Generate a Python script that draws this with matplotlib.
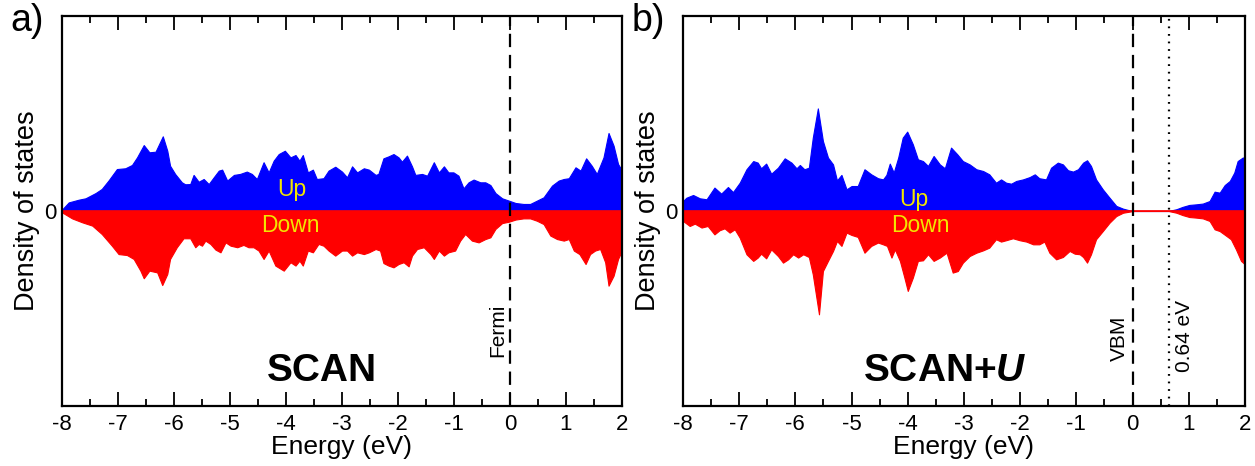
import matplotlib
matplotlib.use("Agg")
import matplotlib.pyplot as plt
from matplotlib.ticker import MultipleLocator

plt.rcParams['font.family'] = ['Liberation Sans', 'DejaVu Sans']
plt.rcParams['axes.unicode_minus'] = False
plt.rcParams['mathtext.fontset'] = 'custom'
plt.rcParams['mathtext.rm'] = 'Liberation Sans'
plt.rcParams['mathtext.bf'] = 'Liberation Sans:bold'
plt.rcParams['mathtext.it'] = 'Liberation Sans:italic'
plt.rcParams['mathtext.bfit'] = 'Liberation Sans:bold:italic'

# ---------------- data (arbitrary DOS units) ----------
# Panel a) SCAN
scan_up_e = [-8.00, -7.88, -7.70, -7.58, -7.40, -7.29, -7.17, -7.02, -6.87, -6.75,
             -6.66, -6.54, -6.44, -6.33, -6.20, -6.12, -6.07, -5.98, -5.86, -5.80,
             -5.71, -5.65, -5.56, -5.47, -5.38, -5.29, -5.20, -5.14, -5.05, -4.93,
             -4.82, -4.70, -4.61, -4.52, -4.40, -4.31, -4.22, -4.13, -4.02, -3.92,
             -3.83, -3.76, -3.70, -3.61, -3.52, -3.45, -3.33, -3.24, -3.12, -3.00,
             -2.91, -2.82, -2.73, -2.61, -2.52, -2.40, -2.35, -2.26, -2.17, -2.08,
             -1.99, -1.93, -1.84, -1.75, -1.69, -1.57, -1.48, -1.36, -1.27, -1.18,
             -1.10, -1.01, -0.92, -0.83, -0.74, -0.65, -0.53, -0.44, -0.35, -0.26,
             -0.14, -0.02, 0.10, 0.24, 0.36, 0.48, 0.60, 0.75, 0.87, 0.96,
             1.05, 1.17, 1.26, 1.36, 1.46, 1.55, 1.67, 1.76, 1.85, 1.93, 2.00]
scan_up = [0.007, 0.044, 0.058, 0.065, 0.092, 0.113, 0.156, 0.215, 0.219, 0.236,
           0.275, 0.338, 0.301, 0.304, 0.383, 0.309, 0.232, 0.190, 0.147, 0.137,
           0.138, 0.185, 0.150, 0.164, 0.138, 0.173, 0.207, 0.212, 0.156, 0.185,
           0.190, 0.202, 0.190, 0.164, 0.250, 0.198, 0.258, 0.292, 0.309, 0.275,
           0.287, 0.258, 0.287, 0.198, 0.212, 0.164, 0.168, 0.207, 0.227, 0.202,
           0.173, 0.229, 0.198, 0.219, 0.212, 0.185, 0.190, 0.270, 0.280, 0.292,
           0.275, 0.253, 0.284, 0.229, 0.185, 0.190, 0.181, 0.250, 0.198, 0.229,
           0.198, 0.198, 0.181, 0.116, 0.147, 0.161, 0.147, 0.147, 0.133, 0.092,
           0.065, 0.053, 0.041, 0.036, 0.036, 0.053, 0.070, 0.130, 0.156, 0.164,
           0.168, 0.224, 0.207, 0.270, 0.232, 0.190, 0.275, 0.400, 0.335, 0.241, 0.207]

scan_dn_e = [-8.00, -7.82, -7.64, -7.46, -7.29, -7.11, -6.99, -6.84, -6.72, -6.60,
             -6.54, -6.44, -6.30, -6.21, -6.12, -6.07, -5.95, -5.83, -5.71, -5.62,
             -5.56, -5.50, -5.44, -5.35, -5.26, -5.17, -5.08, -4.99, -4.87, -4.76,
             -4.67, -4.58, -4.49, -4.40, -4.31, -4.19, -4.04, -3.92, -3.83, -3.76,
             -3.70, -3.61, -3.52, -3.42, -3.33, -3.24, -3.12, -3.00, -2.91, -2.82,
             -2.73, -2.61, -2.52, -2.40, -2.32, -2.26, -2.17, -2.08, -1.99, -1.90,
             -1.81, -1.75, -1.66, -1.54, -1.42, -1.36, -1.27, -1.18, -1.10, -0.98,
             -0.89, -0.80, -0.68, -0.56, -0.44, -0.35, -0.26, -0.14, -0.02, 0.10,
             0.24, 0.36, 0.48, 0.60, 0.72, 0.84, 0.96, 1.05, 1.14, 1.24,
             1.35, 1.43, 1.52, 1.61, 1.70, 1.76, 1.85, 1.93, 2.00]
scan_dn = [0.007, 0.038, 0.058, 0.075, 0.118, 0.178, 0.221, 0.226, 0.246, 0.306,
           0.345, 0.306, 0.315, 0.380, 0.323, 0.246, 0.186, 0.140, 0.140, 0.186,
           0.169, 0.178, 0.152, 0.169, 0.198, 0.212, 0.161, 0.178, 0.186, 0.174,
           0.186, 0.186, 0.203, 0.246, 0.203, 0.280, 0.306, 0.263, 0.280, 0.255,
           0.280, 0.203, 0.212, 0.169, 0.178, 0.203, 0.229, 0.203, 0.203, 0.229,
           0.212, 0.221, 0.212, 0.195, 0.203, 0.267, 0.280, 0.289, 0.272, 0.263,
           0.284, 0.229, 0.195, 0.186, 0.221, 0.246, 0.203, 0.229, 0.212, 0.203,
           0.152, 0.118, 0.152, 0.161, 0.144, 0.135, 0.092, 0.062, 0.055, 0.044,
           0.038, 0.038, 0.050, 0.067, 0.126, 0.144, 0.152, 0.144, 0.203, 0.221,
           0.272, 0.221, 0.203, 0.195, 0.263, 0.383, 0.332, 0.246, 0.203]

# Panel b) SCAN+U
scanu_up_e = [-8.00, -7.94, -7.82, -7.70, -7.58, -7.44, -7.32, -7.20, -7.11, -6.99,
              -6.87, -6.75, -6.67, -6.61, -6.52, -6.43, -6.31, -6.19, -6.07, -5.98,
              -5.92, -5.84, -5.76, -5.69, -5.60, -5.51, -5.42, -5.33, -5.26, -5.18,
              -5.09, -5.00, -4.89, -4.77, -4.65, -4.53, -4.44, -4.38, -4.32, -4.25,
              -4.17, -4.09, -4.01, -3.91, -3.82, -3.73, -3.64, -3.54, -3.43, -3.34,
              -3.23, -3.12, -3.02, -2.90, -2.78, -2.66, -2.55, -2.43, -2.34, -2.25,
              -2.16, -2.07, -1.95, -1.83, -1.74, -1.66, -1.54, -1.45, -1.33, -1.24,
              -1.15, -1.06, -0.97, -0.88, -0.81, -0.74, -0.65, -0.53, -0.41, -0.29,
              -0.17, -0.05, 0.00, 0.64, 0.78, 0.89, 1.01, 1.13, 1.25, 1.37,
              1.46, 1.55, 1.64, 1.73, 1.81, 1.87, 1.96, 2.00]
scanu_up = [0.051, 0.068, 0.082, 0.065, 0.060, 0.120, 0.089, 0.123, 0.097, 0.145,
            0.214, 0.256, 0.248, 0.219, 0.243, 0.191, 0.222, 0.270, 0.248, 0.219,
            0.236, 0.214, 0.222, 0.376, 0.526, 0.359, 0.274, 0.239, 0.157, 0.185,
            0.111, 0.128, 0.128, 0.214, 0.188, 0.168, 0.162, 0.185, 0.243, 0.197,
            0.274, 0.376, 0.407, 0.342, 0.265, 0.256, 0.231, 0.282, 0.239, 0.219,
            0.325, 0.291, 0.256, 0.239, 0.214, 0.205, 0.188, 0.145, 0.162, 0.145,
            0.140, 0.154, 0.162, 0.174, 0.188, 0.168, 0.162, 0.222, 0.248, 0.239,
            0.209, 0.202, 0.214, 0.248, 0.260, 0.231, 0.162, 0.111, 0.068, 0.026,
            0.012, 0.003, 0.000, 0.000, 0.009, 0.021, 0.031, 0.034, 0.038, 0.051,
            0.099, 0.094, 0.133, 0.154, 0.197, 0.256, 0.274, 0.274]

scanu_dn_e = [-8.00, -7.88, -7.79, -7.67, -7.56, -7.44, -7.35, -7.26, -7.17, -7.08,
              -6.99, -6.87, -6.75, -6.67, -6.61, -6.52, -6.43, -6.31, -6.22, -6.13,
              -6.04, -5.95, -5.86, -5.76, -5.69, -5.58, -5.51, -5.42, -5.33, -5.26,
              -5.18, -5.09, -5.00, -4.89, -4.77, -4.65, -4.53, -4.44, -4.37, -4.29,
              -4.23, -4.14, -4.06, -4.00, -3.91, -3.82, -3.73, -3.64, -3.54, -3.43,
              -3.31, -3.20, -3.11, -3.02, -2.90, -2.78, -2.66, -2.55, -2.43, -2.34,
              -2.25, -2.13, -2.01, -1.89, -1.77, -1.66, -1.57, -1.48, -1.36, -1.24,
              -1.12, -1.03, -0.94, -0.88, -0.81, -0.74, -0.65, -0.53, -0.41, -0.29,
              -0.17, -0.05, 0.00, 0.64, 0.78, 0.89, 1.01, 1.13, 1.25, 1.37,
              1.46, 1.55, 1.67, 1.75, 1.84, 1.93, 2.00]
scanu_dn = [0.051, 0.077, 0.065, 0.085, 0.077, 0.120, 0.099, 0.089, 0.111, 0.094,
            0.137, 0.222, 0.256, 0.239, 0.219, 0.243, 0.197, 0.231, 0.265, 0.248,
            0.222, 0.239, 0.222, 0.236, 0.325, 0.530, 0.308, 0.256, 0.205, 0.154,
            0.179, 0.111, 0.123, 0.133, 0.214, 0.179, 0.162, 0.171, 0.179, 0.239,
            0.197, 0.256, 0.342, 0.410, 0.342, 0.256, 0.253, 0.222, 0.256, 0.239,
            0.214, 0.316, 0.308, 0.265, 0.231, 0.214, 0.202, 0.188, 0.145, 0.157,
            0.150, 0.140, 0.150, 0.157, 0.171, 0.171, 0.157, 0.214, 0.248, 0.236,
            0.205, 0.219, 0.222, 0.236, 0.265, 0.222, 0.145, 0.103, 0.060, 0.026,
            0.009, 0.003, 0.000, 0.000, 0.009, 0.021, 0.031, 0.034, 0.038, 0.051,
            0.094, 0.103, 0.128, 0.145, 0.197, 0.256, 0.274]

x_ticks = [-8, -7, -6, -5, -4, -3, -2, -1, 0, 1, 2]
vbm = 0.0
gap_edge = 0.64

# ---------------- figure ----------------
fig = plt.figure(figsize=(12.55, 4.66), dpi=100)
ax_a = fig.add_axes([0.0494, 0.1288, 0.4462, 0.8369])
ax_b = fig.add_axes([0.5442, 0.1288, 0.4478, 0.8369])

BLUE = '#0000ff'
RED = '#ff0000'
YEL = '#f2e600'


def style(ax):
    ax.set_xlim(-8, 2)
    ax.set_ylim(-1, 1)
    ax.xaxis.set_minor_locator(MultipleLocator(0.5))
    ax.set_xticks(x_ticks)
    ax.set_xticklabels([str(t) for t in x_ticks])
    ax.set_yticks([0])
    ax.set_yticklabels(['0'])
    ax.tick_params(axis='x', which='major', direction='in', length=10, width=1.3,
                   top=True, bottom=True, labelsize=16, pad=6)
    ax.tick_params(axis='x', which='minor', direction='in', length=5, width=1.3,
                   top=True, bottom=True)
    ax.tick_params(axis='y', which='major', direction='in', length=10, width=1.3,
                   left=True, right=True, labelsize=16, pad=4)
    for s in ax.spines.values():
        s.set_linewidth(1.6)
    ax.set_xlabel('Energy (eV)', fontsize=19, labelpad=0)
    ax.set_ylabel('Density of states', fontsize=19.5, labelpad=3)


for ax, ue, u, de, d in [(ax_a, scan_up_e, scan_up, scan_dn_e, scan_dn),
                         (ax_b, scanu_up_e, scanu_up, scanu_dn_e, scanu_dn)]:
    ax.fill_between(ue, 0, u, color=BLUE, lw=0.8, zorder=2)
    ax.fill_between(de, 0, [-v for v in d], color=RED, lw=0.8, zorder=2)
    ax.axhline(0, color=RED, lw=1.2, zorder=2.5)
    style(ax)

# panel a annotations
ax_a.axvline(0, color='black', lw=1.6, ls=(0, (6, 3.5)), zorder=3)
ax_a.text(-0.04, -0.61, 'Fermi', rotation=90, ha='right', va='center', fontsize=15)
ax_a.text(-3.9, 0.11, 'Up', color=YEL, fontsize=16.5, ha='center', va='center', zorder=4)
ax_a.text(-3.92, -0.075, 'Down', color=YEL, fontsize=16.5, ha='center', va='center', zorder=4)
ax_a.text(-3.36, -0.82, 'SCAN', fontsize=28, fontweight='bold', ha='center', va='center')
fig.text(0.008, 0.955, 'a)', fontsize=27, ha='left', va='center')

# panel b annotations
ax_b.axvline(vbm, color='black', lw=1.6, ls=(0, (6, 3.5)), zorder=3)
ax_b.axvline(gap_edge, color='black', lw=1.6, ls=(0, (0.8, 2.6)), zorder=3)
ax_b.text(-0.06, -0.655, 'VBM', rotation=90, ha='right', va='center', fontsize=15)
ax_b.text(0.75, -0.64, '0.64 eV', rotation=90, ha='left', va='center', fontsize=15)
ax_b.text(-3.9, 0.06, 'Up', color=YEL, fontsize=16.5, ha='center', va='center', zorder=4)
ax_b.text(-3.78, -0.075, 'Down', color=YEL, fontsize=16.5, ha='center', va='center', zorder=4)
ax_b.text(-3.34, -0.82, r'SCAN+$\mathbfit{U}$', fontsize=28, fontweight='bold',
          ha='center', va='center')
fig.text(0.503, 0.955, 'b)', fontsize=27, ha='left', va='center')

fig.savefig('out.png', dpi=100)
